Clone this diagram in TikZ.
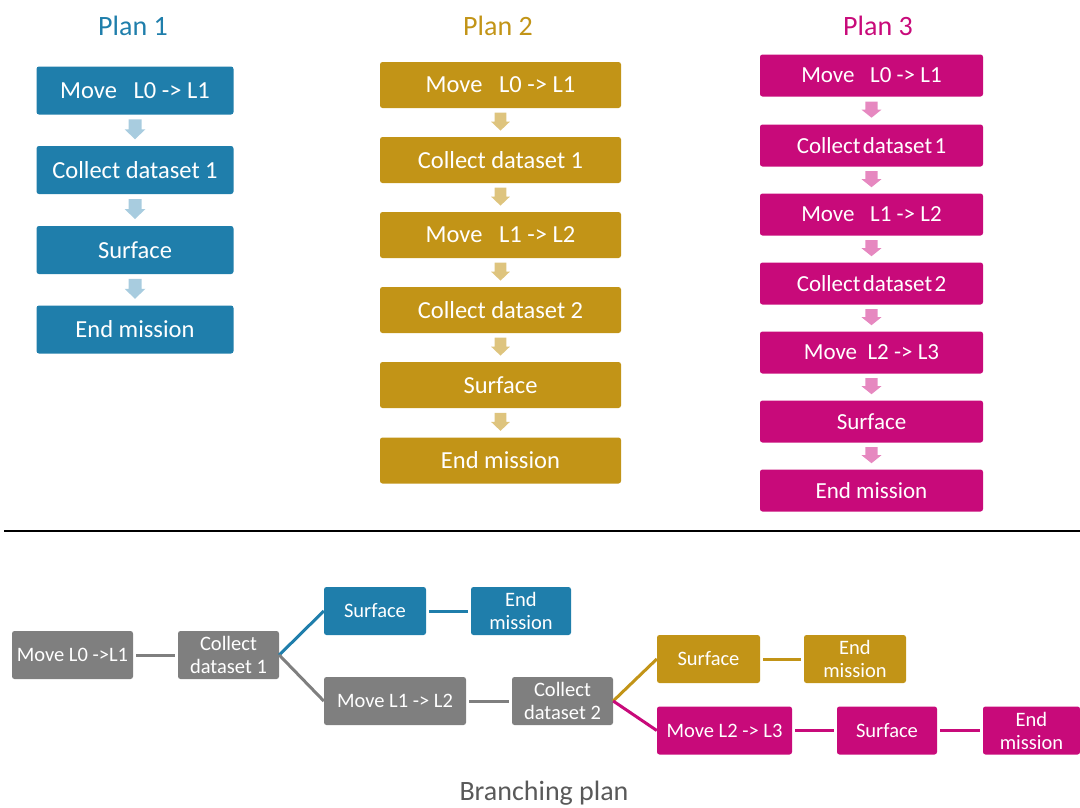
\documentclass[tikz,border=0pt]{standalone}
\usepackage{fontspec}
\setmainfont{Carlito}
\definecolor{pblue}{HTML}{1F7EAB}
\definecolor{pbluelt}{HTML}{A8CCDF}
\definecolor{pgold}{HTML}{C29417}
\definecolor{pgoldlt}{HTML}{DEC47E}
\definecolor{pmag}{HTML}{C80A7A}
\definecolor{pmaglt}{HTML}{E688C0}
\definecolor{pgray}{HTML}{7F7F7F}
\definecolor{captiongray}{HTML}{595959}
\tikzset{
  downblock/.pic={
    \fill (-6.5,-11) -- (6.5,-11) -- (6.5,-1) -- (10.5,-1) -- (0,9) -- (-10.5,-1) -- (-6.5,-1) -- cycle;}
}
\begin{document}
\begin{tikzpicture}[x=1pt,y=-1pt,
  box/.style={rounded corners=2.5pt, inner sep=0pt, text=white, align=center},
  title/.style={anchor=base, font=\fontsize{28}{32}\selectfont},
  p1box/.style={box, fill=pblue, minimum width=197pt, minimum height=48pt, font=\fontsize{24.5}{28}\selectfont},
  p2box/.style={box, fill=pgold, minimum width=241pt, minimum height=46pt, font=\fontsize{24.5}{28}\selectfont},
  p3box/.style={box, fill=pmag, minimum width=223pt, minimum height=42pt, font=\fontsize{23}{26}\selectfont},
  bbox/.style={box, minimum height=48pt, font=\fontsize{20.5}{23}\selectfont},
  ln/.style={line width=3pt},
  gapped/.style={ln, shorten <=3pt, shorten >=3pt}]
\useasboundingbox (0,0) rectangle (1080,807);

% column titles
\node[title, text=pblue] (t1) at (133,35) {Plan 1};
\node[title, text=pgold] (t2) at (498,35) {Plan 2};
\node[title, text=pmag] (t3) at (878,35) {Plan 3};

% Plan 1
\node[p1box] (a1) at (135,90.5) {Move~~~L0 -> L1};
\node[p1box] (a2) at (135,170) {Collect dataset 1};
\node[p1box] (a3) at (135,250) {Surface};
\node[p1box] (a4) at (135,329.5) {End mission};

% Plan 2
\node[p2box] (b1) at (500.5,85) {Move~~~L0 -> L1};
\node[p2box] (b2) at (500.5,160) {Collect dataset 1};
\node[p2box] (b3) at (500.5,235) {Move~~~L1 -> L2};
\node[p2box] (b4) at (500.5,310) {Collect dataset 2};
\node[p2box] (b5) at (500.5,385) {Surface};
\node[p2box] (b6) at (500.5,460.5) {End mission};

% Plan 3
\node[p3box] (c1) at (871.5,75.5) {Move~~~L0 -> L1};
\node[p3box] (c2) at (871.5,145.5) {Collect\hspace{0.1em}dataset\hspace{0.1em}1};
\node[p3box] (c3) at (871.5,214.5) {Move~~~L1 -> L2};
\node[p3box] (c4) at (871.5,283.5) {Collect\hspace{0.1em}dataset\hspace{0.1em}2};
\node[p3box] (c5) at (871.5,352.5) {Move~~L2 -> L3};
\node[p3box] (c6) at (871.5,421.5) {Surface};
\node[p3box] (c7) at (871.5,490.5) {End mission};

% step arrows between the boxes of each plan
\foreach \u/\v in {a1/a2,a2/a3,a3/a4}{
  \path (\u.south) -- (\v.north) coordinate[midway] (m\u);
  \pic[fill=pbluelt] at (m\u) {downblock};}
\foreach \u/\v in {b1/b2,b2/b3,b3/b4,b4/b5,b5/b6}{
  \path (\u.south) -- (\v.north) coordinate[midway] (m\u);
  \pic[fill=pgoldlt, scale=0.9] at (m\u) {downblock};}
\foreach \u/\v in {c1/c2,c2/c3,c3/c4,c4/c5,c5/c6,c6/c7}{
  \path (\u.south) -- (\v.north) coordinate[midway] (m\u);
  \pic[fill=pmaglt, xscale=0.95, yscale=0.8] at (m\u) {downblock};}

% separator
\draw[line width=2pt] (4,531) -- (1080,531);

% branching plan
\node[bbox, fill=pgray, minimum width=121pt] (n0) at (72.5,655) {Move L0 ->L1};
\node[bbox, fill=pgray, minimum width=101pt] (n1) at (228.5,655) {Collect\\dataset 1};
\node[bbox, fill=pblue, minimum width=102pt] (s1) at (375,611) {Surface};
\node[bbox, fill=pblue, minimum width=100pt] (e1) at (521,611) {End\\mission};
\node[bbox, fill=pgray, minimum width=142pt] (n2) at (395,701) {Move L1 -> L2};
\node[bbox, fill=pgray, minimum width=101pt] (n3) at (562.5,701) {Collect\\dataset 2};
\node[bbox, fill=pgold, minimum width=103pt] (s2) at (708.5,659) {Surface};
\node[bbox, fill=pgold, minimum width=102pt] (e2) at (855,659) {End\\mission};
\node[bbox, fill=pmag, minimum width=135pt] (n4) at (724.5,730.5) {Move L2 -> L3};
\node[bbox, fill=pmag, minimum width=100pt] (s3) at (887,730.5) {Surface};
\node[bbox, fill=pmag, minimum width=97pt] (e3) at (1031.5,730.5) {End\\mission};

\draw[gapped, pgray] (n0) -- (n1);
\draw[ln, pblue] (n1.east) -- (s1.west);
\draw[ln, pgray] (n1.east) -- (n2.west);
\draw[gapped, pblue] (s1) -- (e1);
\draw[gapped, pgray] (n2) -- (n3);
\draw[ln, pgold] (n3.east) -- (s2.west);
\draw[ln, pmag] (n3.east) -- (n4.west);
\draw[gapped, pgold] (s2) -- (e2);
\draw[gapped, pmag] (n4) -- (s3);
\draw[gapped, pmag] (s3) -- (e3);

\node[anchor=base, text=captiongray, font=\fontsize{28}{32}\selectfont] (cap) at (544,800) {Branching plan};
\end{tikzpicture}
\end{document}
